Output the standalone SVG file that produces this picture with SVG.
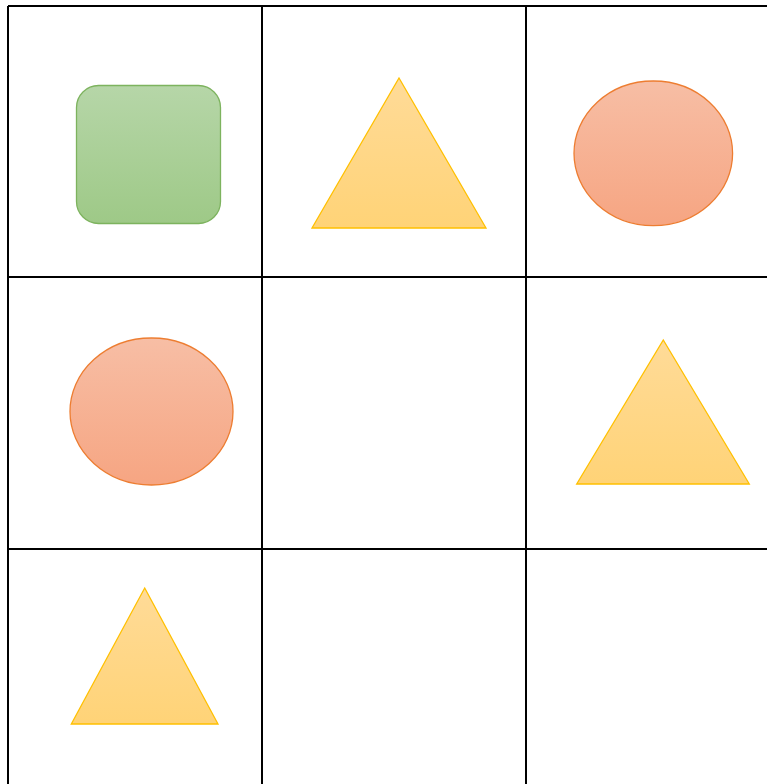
<svg xmlns="http://www.w3.org/2000/svg" width="767" height="784" viewBox="0 0 767 784">
<defs>
<linearGradient id="gGreen" x1="0" y1="0" x2="0" y2="1"><stop offset="0" stop-color="#b6d6a8"/><stop offset="1" stop-color="#9ec987"/></linearGradient>
<linearGradient id="gOrange" x1="0" y1="0" x2="0" y2="1"><stop offset="0" stop-color="#f7bea5"/><stop offset="1" stop-color="#f6a582"/></linearGradient>
<linearGradient id="gYellow" x1="0" y1="0" x2="0" y2="1"><stop offset="0" stop-color="#ffdb98"/><stop offset="1" stop-color="#ffd377"/></linearGradient>
</defs>
<style>
.grid{stroke:#000;stroke-width:2;fill:none}
.sq{fill:url(#gGreen);stroke:#7db35e;stroke-width:1.3}
.el{fill:url(#gOrange);stroke:#ed7d31;stroke-width:1.3}
.tri{fill:url(#gYellow);stroke:#ffc000;stroke-width:1.3}
</style>
<rect width="767" height="784" fill="#fff"/>
<g id="grid" class="grid">
<line x1="8" y1="6" x2="767" y2="6"/>
<line x1="8" y1="277" x2="767" y2="277"/>
<line x1="8" y1="549" x2="767" y2="549"/>
<line x1="8" y1="6" x2="8" y2="784"/>
<line x1="262" y1="6" x2="262" y2="784"/>
<line x1="526" y1="6" x2="526" y2="784"/>
</g>
<g id="square1"><rect class="sq" x="76.5" y="85.5" width="144" height="138" rx="22" ry="22"/></g>
<g id="triangle1"><polygon class="tri" points="399,78 486,228 312,228"/></g>
<g id="ellipse1"><ellipse class="el" cx="653.3" cy="153.3" rx="79.3" ry="72.3"/></g>
<g id="ellipse2"><ellipse class="el" cx="151.5" cy="411.5" rx="81.5" ry="73.5"/></g>
<g id="triangle2"><polygon class="tri" points="663.3,340 749.3,484 576.7,484"/></g>
<g id="triangle3"><polygon class="tri" points="144.7,588 218,724 71.3,724"/></g>
</svg>
